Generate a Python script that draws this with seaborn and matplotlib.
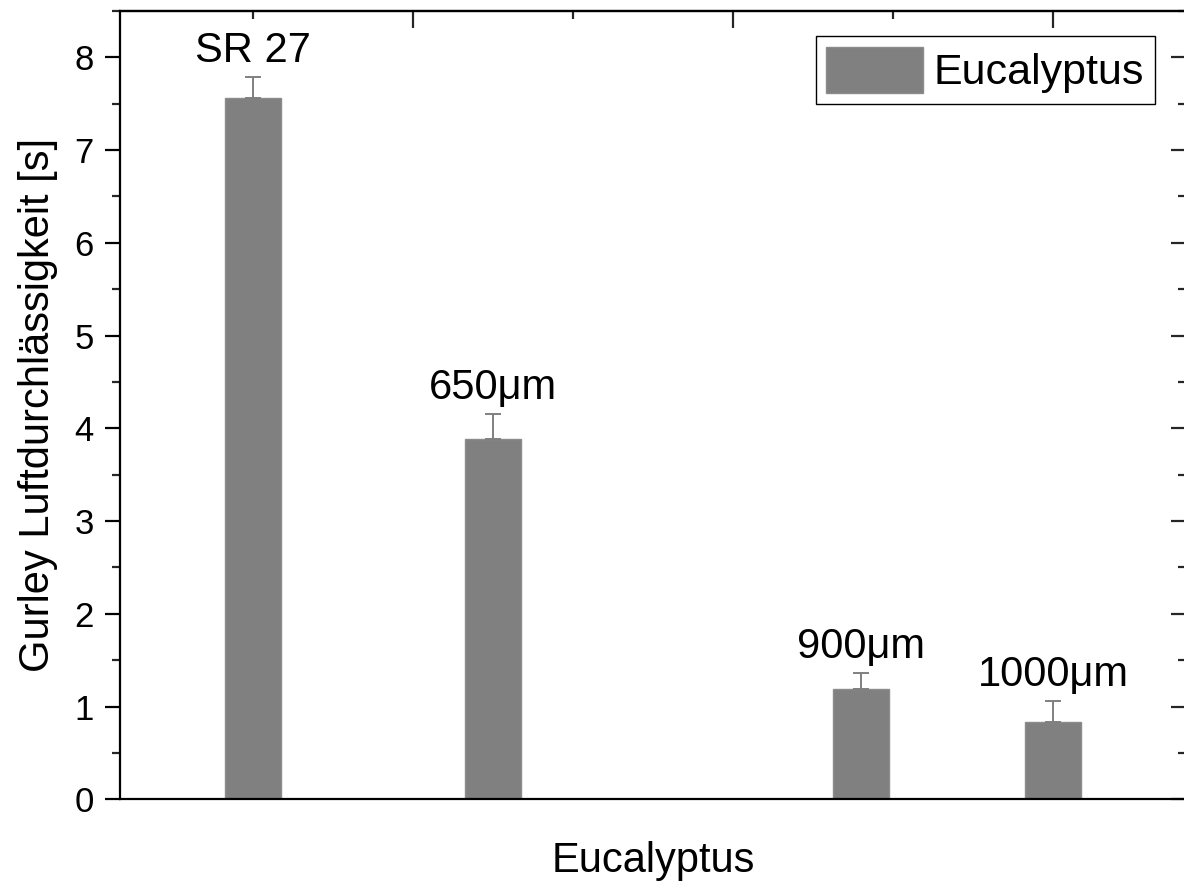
import numpy as np
import pandas as pd
import matplotlib
matplotlib.use("Agg")
import matplotlib.pyplot as plt
from matplotlib.ticker import MultipleLocator, NullFormatter
import seaborn as sns

# Gurley air permeability of eucalyptus samples
samples = ["SR 27", "650μm", "900μm", "1000μm"]
bar_x = [0.5, 1.25, 2.4, 3.0]          # bar positions along the x axis
gurley = [7.56, 3.89, 1.19, 0.83]      # mean Gurley time [s]
gurley_err = [0.23, 0.26, 0.17, 0.23]  # upper error

series_name = "Eucalyptus"
bar_color = "#808080"

sns.set_theme(style="ticks")
plt.rcParams["font.family"] = ["Liberation Sans", "DejaVu Sans"]
plt.rcParams["axes.linewidth"] = 1.6

df = pd.DataFrame({"pos": bar_x, "gurley": gurley})

W, H = 1184, 881
fig = plt.figure(figsize=(W / 100, H / 100), dpi=100)
ax = fig.add_axes([120 / W, 1 - 799.3 / H, (1186 - 120) / W, (799.3 - 11) / H])

bar_width = 0.175
spacing = np.min(np.diff(sorted(bar_x)))
sns.barplot(data=df, x="pos", y="gurley", native_scale=True,
            width=bar_width / spacing, color=bar_color, saturation=1,
            errorbar=None, label=series_name, edgecolor="#8c8c8c",
            linewidth=1.0, ax=ax)

ax.errorbar(bar_x, gurley, yerr=[np.zeros(len(gurley)), gurley_err],
            fmt="none", ecolor=bar_color, elinewidth=1.4, capsize=5.5,
            capthick=1.4, zorder=1)

for x, y, e, s in zip(bar_x, gurley, gurley_err, samples):
    ax.annotate(s, (x, y + e), xytext=(0, 11), textcoords="offset points",
                ha="center", va="baseline", fontsize=30, color="black")

ax.set_xlim(0.0844, 3.4156)
ax.set_ylim(0, 8.5)

# left axis: outward ticks with labels
ax.yaxis.set_major_locator(MultipleLocator(1))
ax.yaxis.set_minor_locator(MultipleLocator(0.5))
ax.tick_params(axis="y", which="major", direction="out", length=11,
               width=1.6, labelsize=25, pad=8, right=False, colors="black")
ax.tick_params(axis="y", which="minor", direction="out", length=6,
               width=1.6, right=False)
ax.tick_params(axis="x", which="both", bottom=False, labelbottom=False,
               top=False)

# right axis: inward ticks, no labels
axr = ax.secondary_yaxis("right")
axr.yaxis.set_major_locator(MultipleLocator(1))
axr.yaxis.set_minor_locator(MultipleLocator(0.5))
axr.tick_params(which="major", direction="in", length=11, width=1.6,
                labelright=False)
axr.tick_params(which="minor", direction="in", length=6, width=1.6)

# top axis: inward ticks, no labels
axt = ax.secondary_xaxis("top")
axt.xaxis.set_major_locator(MultipleLocator(1))
axt.xaxis.set_minor_locator(MultipleLocator(0.5))
axt.xaxis.set_major_formatter(NullFormatter())
axt.tick_params(which="major", direction="in", length=12, width=1.6,
                labeltop=False)
axt.tick_params(which="minor", direction="in", length=6, width=1.6)

for side in ["top", "right", "left", "bottom"]:
    ax.spines[side].set_visible(True)
    ax.spines[side].set_color("black")
    ax.spines[side].set_linewidth(1.6)

ax.set_xlabel("Eucalyptus", fontsize=30, labelpad=30, color="black")
ax.set_ylabel("Gurley Luftdurchlässigkeit [s]", fontsize=30, labelpad=12,
              color="black")

handles, labels = ax.get_legend_handles_labels()
leg = ax.legend(handles, labels, loc="upper right",
                bbox_to_anchor=(0.971, 0.968), borderaxespad=0,
                frameon=True, fancybox=False, edgecolor="black",
                framealpha=1, fontsize=31, handlelength=2.25,
                handleheight=1.25, borderpad=0.25, handletextpad=0.25)
leg.get_frame().set_linewidth(1.0)
for t in leg.get_texts():
    t.set_color("black")

fig.savefig("out.png", dpi=100)
